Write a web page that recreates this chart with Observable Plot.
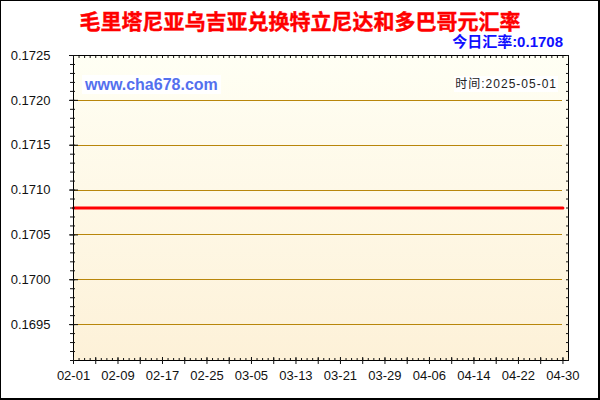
<!DOCTYPE html>
<html>
<head>
<meta charset="utf-8">
<script src="https://cdn.jsdelivr.net/npm/d3@7"></script>
<script src="https://cdn.jsdelivr.net/npm/@observablehq/plot@0.6"></script>
<style>
  html, body { margin: 0; padding: 0; background: #fff; }
  #wrap { position: relative; width: 600px; height: 400px; overflow: hidden; background: #fff; }
  #bg { position: absolute; left: 73px; top: 55px; width: 495px; height: 305px;
        background: linear-gradient(to bottom, #fffff4, #fdf1d8); }
  #chart { position: absolute; left: 0; top: 0; }
  #title { position: absolute; left: 0; width: 600px; top: 8px; text-align: center;
           font: bold 21px "Noto Sans CJK SC", sans-serif; color: #ff0000; line-height: 24px;
           -webkit-text-stroke: 0.4px #ff0000; }
  #today { position: absolute; right: 37px; top: 32px; font: bold 15px "Liberation Sans", "Noto Sans CJK SC", sans-serif;
           color: #1010ff; line-height: 19px; }
  #site { position: absolute; left: 82px; top: 75px; padding: 0 3px; background: #fff;
          font: bold 16px "Liberation Sans", sans-serif; color: #5470ee; line-height: 19px; }
  #date { position: absolute; right: 42px; top: 76px; padding: 0 1px; background: #fff;
          font: 12px "Liberation Sans", "Noto Sans CJK SC", sans-serif; letter-spacing: 1px; color: #222; line-height: 16px; }
  #border { position: absolute; left: 0; top: 0; width: 600px; height: 400px; box-sizing: border-box;
            border-left: 1px solid #000; border-top: 1px solid #000; border-right: 2px solid #000; border-bottom: 2px solid #000;
            pointer-events: none; }
</style>
</head>
<body>
<div id="wrap">
  <div id="bg"></div>
  <div id="chart"></div>
  <div id="title">毛里塔尼亚乌吉亚兑换特立尼达和多巴哥元汇率</div>
  <div id="today">今日汇率:0.1708</div>
  <div id="site">www.cha678.com</div>
  <div id="date">时间:2025-05-01</div>
  <div id="border"></div>
</div>
<script>
// ---- data ----
const startDate = "2025-02-01";
const endDate = "2025-04-30";
const rates = [
  0.1708,0.1708,0.1708,0.1708,0.1708,0.1708,0.1708,0.1708,0.1708,0.1708,
  0.1708,0.1708,0.1708,0.1708,0.1708,0.1708,0.1708,0.1708,0.1708,0.1708,
  0.1708,0.1708,0.1708,0.1708,0.1708,0.1708,0.1708,0.1708,0.1708,0.1708,
  0.1708,0.1708,0.1708,0.1708,0.1708,0.1708,0.1708,0.1708,0.1708,0.1708,
  0.1708,0.1708,0.1708,0.1708,0.1708,0.1708,0.1708,0.1708,0.1708,0.1708,
  0.1708,0.1708,0.1708,0.1708,0.1708,0.1708,0.1708,0.1708,0.1708,0.1708,
  0.1708,0.1708,0.1708,0.1708,0.1708,0.1708,0.1708,0.1708,0.1708,0.1708,
  0.1708,0.1708,0.1708,0.1708,0.1708,0.1708,0.1708,0.1708,0.1708,0.1708,
  0.1708,0.1708,0.1708,0.1708,0.1708,0.1708,0.1708,0.1708,0.1708
];
const xTickLabels = ["02-01","02-09","02-17","02-25","03-05","03-13","03-21","03-29","04-06","04-14","04-22","04-30"];
const yTickLabels = [0.1725, 0.1720, 0.1715, 0.1710, 0.1705, 0.1700, 0.1695];
const yGridValues = [0.1720, 0.1715, 0.1710, 0.1705, 0.1700, 0.1695];
const yDomain = [0.1691, 0.1725];
const xDomainEnd = "2025-05-01";

// ---- build ----
const d0 = new Date(startDate + "T00:00:00Z");
const d1 = new Date(endDate + "T00:00:00Z");
const dates = d3.utcDay.range(d0, d3.utcDay.offset(d1, 1));
const data = dates.map((d, i) => ({date: d, rate: rates[i]}));
const xTicks = xTickLabels.map(s => new Date("2025-" + s + "T00:00:00Z"));
const xEnd = new Date(xDomainEnd + "T00:00:00Z");
const dayTicks = d3.utcDay.range(d0, d3.utcDay.offset(xEnd, 1));
const fourDayTicks = dayTicks.filter((d, i) => i % 4 === 0);
const yMinor = d3.range(Math.round(yDomain[0] * 10000), Math.round(yDomain[1] * 10000) + 1).map(v => v / 10000);

const chart = Plot.plot({
  width: 600,
  height: 400,
  marginLeft: 73,
  marginRight: 32,
  marginTop: 55,
  marginBottom: 40,
  style: {background: "transparent", fontFamily: "Liberation Sans, Arial, sans-serif", fontSize: "13px", color: "#111"},
  x: {type: "utc", domain: [d0, xEnd], label: null},
  y: {domain: yDomain, label: null},
  marks: [
    Plot.ruleY(yGridValues, {x1: () => d0, x2: () => d1, stroke: "#b8860b", strokeWidth: 1, shapeRendering: "crispEdges"}),
    Plot.lineY(data, {x: "date", y: "rate", stroke: "#ff0000", strokeWidth: 3}),
    Plot.frame({stroke: "#000", strokeWidth: 1, shapeRendering: "crispEdges"}),
    // y labels
    Plot.axisY({ticks: yTickLabels, tickFormat: d3.format(".4f"), tickSize: 0, tickPadding: 23, fontSize: 13, label: null}),
    // y major ticks (crossing)
    Plot.axisY({ticks: yTickLabels, tickFormat: () => "", tickSize: 9, dx: 5, label: null}),
    // y minor ticks
    Plot.axisY({ticks: yMinor, tickFormat: () => "", tickSize: 5, dx: 2, label: null}),
    // right-side minor ticks
    Plot.axisY({anchor: "right", ticks: yMinor, tickFormat: () => "", tickSize: 3, dx: -3, label: null}),
    // x labels
    Plot.axisX({ticks: xTicks, tickFormat: d3.utcFormat("%m-%d"), tickSize: 0, tickPadding: 10, fontSize: 13, label: null}),
    // x major ticks every 4 days
    Plot.axisX({ticks: fourDayTicks, tickFormat: () => "", tickSize: 7, dy: -3, label: null}),
    // x minor daily ticks
    Plot.axisX({ticks: dayTicks, tickFormat: () => "", tickSize: 2, dy: -2, label: null}),
    // top daily ticks
    Plot.axisX({anchor: "top", ticks: dayTicks, tickFormat: () => "", tickSize: 2, dy: 2, label: null})
  ]
});
document.getElementById("chart").appendChild(chart);
</script>
</body>
</html>
